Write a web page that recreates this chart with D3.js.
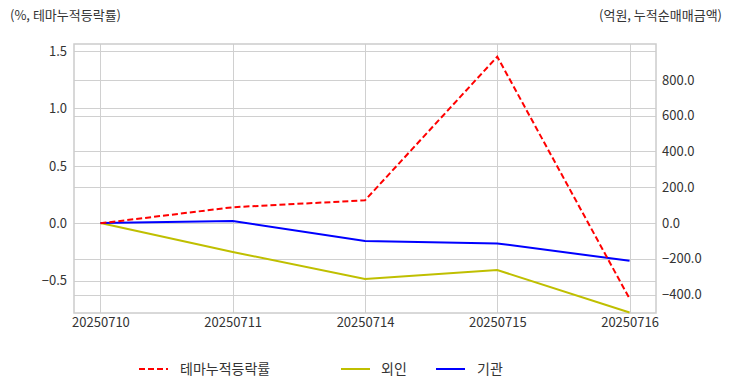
<!DOCTYPE html>
<html><head><meta charset="utf-8">
<script src="https://cdn.jsdelivr.net/npm/d3@7"></script>
<style>body{margin:0;background:#fff}svg{display:block}text{font-family:"Noto Sans CJK KR","Noto Sans",sans-serif;fill:#333}</style>
</head><body><svg id="c" width="732" height="392"></svg>
<script>
const dates = ["20250710","20250711","20250714","20250715","20250716"];
const themeRate = [0, 0.14, 0.20, 1.45, -0.655];
const foreign = [0, -162, -313, -263, -500];
const inst = [0, 11, -100, -114, -211];
const leftTicks = [-0.5, 0.0, 0.5, 1.0, 1.5];
const rightTicks = [-400, -200, 0, 200, 400, 600, 800];
const seriesNames = ["테마누적등락률", "외인", "기관"];

const svg = d3.select("#c");
const L = 74, R = 656, T = 44, B = 313;
const x = d3.scalePoint().domain(dates).range([L, R]).padding(0.2);
const yL = d3.scaleLinear().domain([-0.78, 1.56]).range([B, T]);
const yR = d3.scaleLinear().domain([-503, 1001]).range([B, T]);

const grid = svg.append("g").attr("stroke", "#d0d0d0").attr("stroke-width", 1);
leftTicks.forEach(v => grid.append("line").attr("x1", L).attr("x2", R).attr("y1", Math.round(yL(v))+0.5).attr("y2", Math.round(yL(v))+0.5));
rightTicks.forEach(v => grid.append("line").attr("x1", L).attr("x2", R).attr("y1", Math.round(yR(v))+0.5).attr("y2", Math.round(yR(v))+0.5));
dates.forEach(d => grid.append("line").attr("y1", T).attr("y2", B).attr("x1", Math.round(x(d))+0.5).attr("x2", Math.round(x(d))+0.5));

svg.append("rect").attr("x", L).attr("y", T).attr("width", R-L).attr("height", B-T)
  .attr("fill", "none").attr("stroke", "#cccccc").attr("stroke-width", 1.5);

const axL = d3.axisLeft(yL).tickValues(leftTicks).tickFormat(d3.format(".1f")).tickSize(0).tickPadding(7);
const gL = svg.append("g").attr("transform", `translate(${L},0)`).call(axL);
const axR = d3.axisRight(yR).tickValues(rightTicks).tickFormat(d3.format(".1f")).tickSize(0).tickPadding(6);
const gR = svg.append("g").attr("transform", `translate(${R},0)`).call(axR);
const axB = d3.axisBottom(x).tickSize(0).tickPadding(5);
const gB = svg.append("g").attr("transform", `translate(0,${B})`).call(axB);
[gL, gR, gB].forEach(g => { g.select(".domain").remove(); g.selectAll("text").attr("font-size", 13).attr("fill", "#333").style("font-family", '"Noto Sans CJK KR","Noto Sans",sans-serif'); });

const lineL = d3.line().x((d,i) => x(dates[i])).y(d => yL(d));
const lineR = d3.line().x((d,i) => x(dates[i])).y(d => yR(d));
svg.append("path").attr("d", lineR(foreign)).attr("fill", "none").attr("stroke", "#bfbf00").attr("stroke-width", 2);
svg.append("path").attr("d", lineR(inst)).attr("fill", "none").attr("stroke", "#0000ff").attr("stroke-width", 2);
svg.append("path").attr("d", lineL(themeRate)).attr("fill", "none").attr("stroke", "#ff0000").attr("stroke-width", 2).attr("stroke-dasharray", "6,3");

svg.append("text").attr("x", 10).attr("y", 20).attr("font-size", 13).text("(%, 테마누적등락률)");
svg.append("text").attr("x", 722).attr("y", 20).attr("font-size", 13).attr("text-anchor", "end").text("(억원, 누적순매매금액)");

const leg = [
  {name: seriesNames[0], color: "#ff0000", dash: "6,3", x1: 139, tx: 180},
  {name: seriesNames[1], color: "#bfbf00", dash: null, x1: 341, tx: 381},
  {name: seriesNames[2], color: "#0000ff", dash: null, x1: 436, tx: 477}
];
const ly = 369;
leg.forEach(l => {
  const ln = svg.append("line").attr("x1", l.x1).attr("x2", l.x1 + 29).attr("y1", ly).attr("y2", ly).attr("stroke", l.color).attr("stroke-width", 2);
  if (l.dash) ln.attr("stroke-dasharray", l.dash);
  svg.append("text").attr("x", l.tx).attr("y", ly + 5).attr("font-size", 14).text(l.name);
});
</script></body></html>
